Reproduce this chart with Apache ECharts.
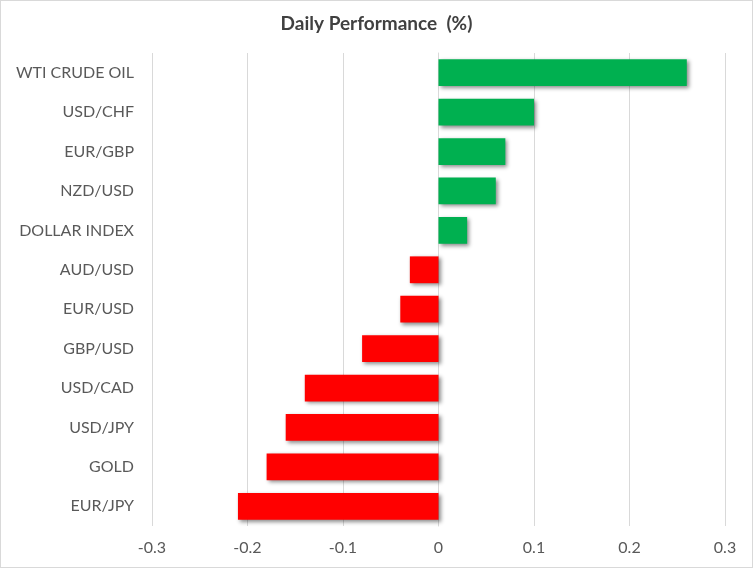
<!DOCTYPE html>
<html><head><meta charset="utf-8">
<script src="https://cdn.jsdelivr.net/npm/echarts@6/dist/echarts.min.js"></script>
<style>
html,body{margin:0;padding:0;background:#fff;}
#c{width:751px;height:566px;border:1px solid #D9D9D9;}
</style></head><body>
<div id="c"></div>
<script>
const categories = ["WTI CRUDE OIL","USD/CHF","EUR/GBP","NZD/USD","DOLLAR INDEX","AUD/USD","EUR/USD","GBP/USD","USD/CAD","USD/JPY","GOLD","EUR/JPY"];
const values = [0.26, 0.10, 0.07, 0.06, 0.03, -0.03, -0.04, -0.08, -0.14, -0.16, -0.18, -0.21];
const xTicks = [-0.3, -0.2, -0.1, 0, 0.1, 0.2, 0.3];

const chart = echarts.init(document.getElementById('c'));
const font = 'Lato, "Open Sans", sans-serif';
chart.setOption({
  animation: false,
  title: {
    text: 'Daily Performance  (%)', left: 'center', top: 8,
    textStyle: {color: '#404040', fontSize: 19, fontWeight: 'bold', fontFamily: font}
  },
  grid: {left: 151, right: 27, top: 52, bottom: 41, containLabel: false},
  xAxis: {
    type: 'value', min: -0.3, max: 0.3, interval: 0.1,
    axisLine: {show: false}, axisTick: {show: false},
    splitLine: {lineStyle: {color: '#D9D9D9', width: 1}},
    axisLabel: {color: '#595959', fontSize: 16, fontFamily: font, margin: 14,
      formatter: v => { const r = Math.round(v*10)/10; return xTicks.includes(r) ? String(r) : ''; }}
  },
  yAxis: {
    type: 'category', data: categories, inverse: true,
    axisLine: {show: true, onZero: true, lineStyle: {color: '#D9D9D9'}},
    axisTick: {show: false},
    axisLabel: {color: '#595959', fontSize: 16, fontFamily: font, margin: 18}
  },
  series: [{
    type: 'bar', barWidth: '68%',
    data: values.map(v => ({value: v, itemStyle: {color: v >= 0 ? '#00B050' : '#FF0000'}})),
    itemStyle: {shadowColor: 'rgba(0,0,0,0.45)', shadowBlur: 4, shadowOffsetX: 2, shadowOffsetY: 2}
  }]
});
</script></body></html>
